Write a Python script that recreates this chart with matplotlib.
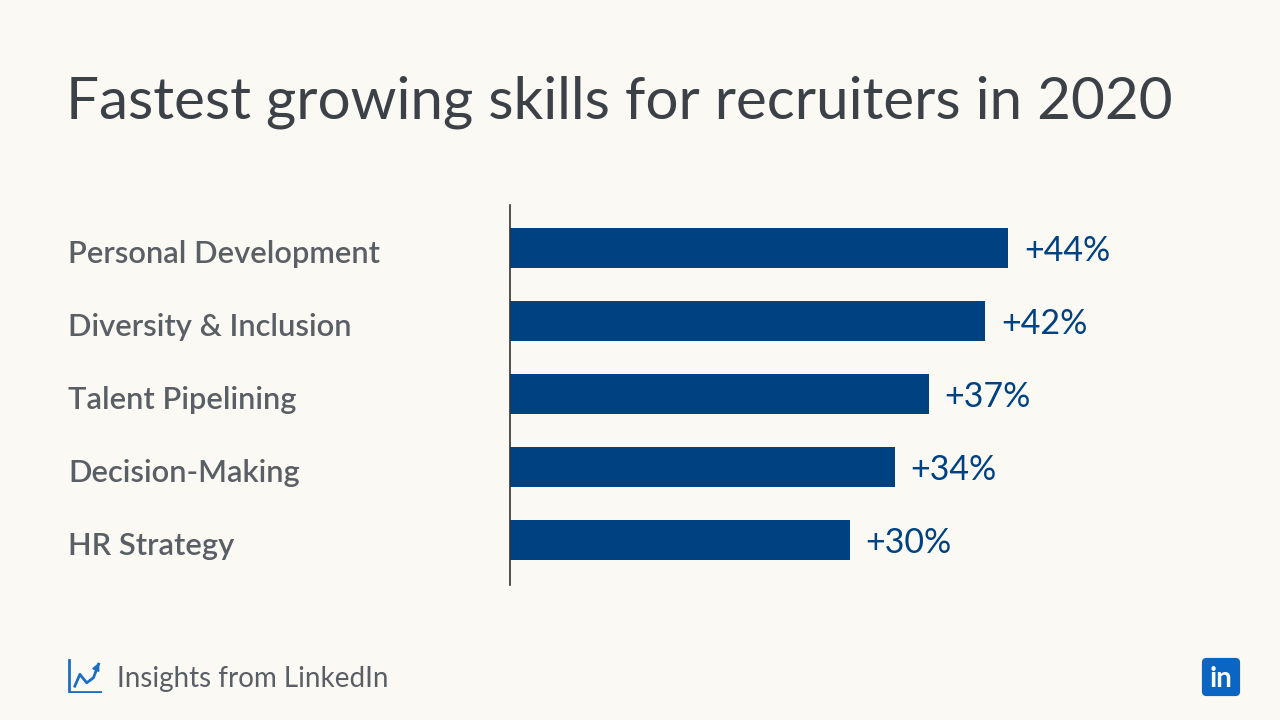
import matplotlib.pyplot as plt
from matplotlib.patches import FancyBboxPatch
import numpy as np

skills = ["Personal Development", "Diversity & Inclusion", "Talent Pipelining",
          "Decision-Making", "HR Strategy"]
growth = [44, 42, 37, 34, 30]

BG = "#fbf9f4"
BLUE = "#004182"
GREY = "#5a5f66"

fig = plt.figure(figsize=(12.8, 7.2), dpi=100, facecolor=BG)
W, H = 1280, 720

# axes placed in pixel space: left spine at x=510, spans y 205..585
ax = fig.add_axes([510 / W, 1 - 585 / H, (1280 - 510) / W, 380 / H])
ax.set_facecolor(BG)
y = np.arange(len(skills))
ax.barh(y, growth, height=0.55, color=BLUE)
ax.set_xlim(0, 770 / (498 / 44))
ax.set_ylim(4 + 45 / 73, -43 / 73)
for s in ["top", "right", "bottom"]:
    ax.spines[s].set_visible(False)
ax.spines["left"].set_color("#333333")
ax.spines["left"].set_linewidth(1.2)
ax.set_xticks([])
ax.set_yticks([])

for yi, v, name in zip(y, growth, skills):
    ax.text(v + 1.4, yi + 0.04, f"+{v}%", va="center", ha="left", fontsize=24.5,
            color=BLUE, family="Lato")
    fig.text(68 / W, 1 - (248 + 73 * yi + 6) / H, name, va="center", ha="left",
             fontsize=22.2, color=GREY, family="Lato", fontweight="semibold")

fig.text(66 / W, 1 - 102 / H, "Fastest growing skills for recruiters in 2020",
         va="center", ha="left", fontsize=42, color="#3c4147", family="Lato",
         fontweight="normal")

fig.text(117 / W, 1 - 679 / H, "Insights from LinkedIn", va="center", ha="left",
         fontsize=20, color=GREY, family="Lato", fontweight="normal")

# small chart icon
ic = fig.add_axes([68 / W, 1 - 693 / H, 34 / W, 34 / H])
ic.set_xlim(0, 1)
ic.set_ylim(0, 1)
ic.axis("off")
ic.plot([0.03, 0.03, 1.0], [0.97, 0.03, 0.03], color="#1a6fc4", lw=2)
ic.plot([0.2, 0.35, 0.55, 0.75, 0.9], [0.2, 0.55, 0.3, 0.45, 0.85],
        color="#1a6fc4", lw=2)
ic.annotate("", xy=(0.95, 0.97), xytext=(0.85, 0.75),
            arrowprops=dict(arrowstyle="-|>", color="#1a6fc4", lw=1.5))

# LinkedIn badge
lg = fig.add_axes([1201 / W, 1 - 697 / H, 40 / W, 40 / H])
lg.set_xlim(0, 1)
lg.set_ylim(0, 1)
lg.axis("off")
lg.add_patch(FancyBboxPatch((0.04, 0.04), 0.92, 0.92,
                            boxstyle="round,pad=0,rounding_size=0.1",
                            color="#0a66c2"))
lg.text(0.5, 0.45, "in", ha="center", va="center", color="white",
        fontsize=20, fontweight="bold", family="Lato")

fig.savefig("out.png", dpi=100, facecolor=BG)
